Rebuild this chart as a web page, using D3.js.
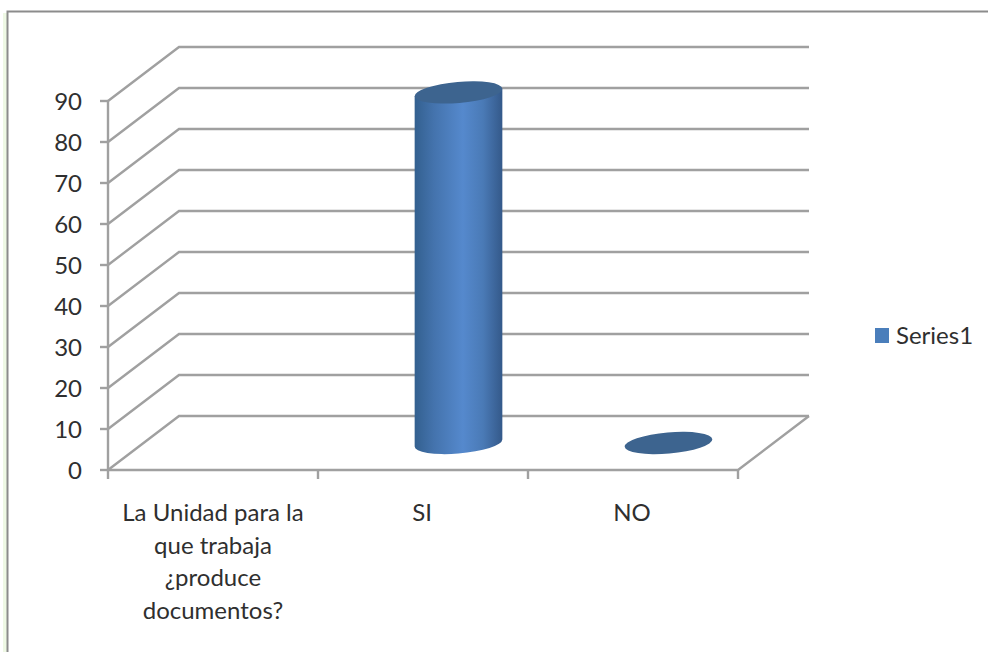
<!DOCTYPE html>
<html>
<head>
<meta charset="utf-8">
<script src="https://cdn.jsdelivr.net/npm/d3@7/dist/d3.min.js"></script>
<style>
html,body{margin:0;padding:0;background:#fff;}
svg{display:block;}
text{font-family:Lato,"Open Sans",sans-serif;fill:#2f2f2f;}
</style>
</head>
<body>
<svg id="chart" width="988" height="652"></svg>
<script>
// Survey answers plotted as a 3D-style cylinder column chart
const categories = ["La Unidad para la que trabaja ¿produce documentos?", "SI", "NO"];
const categoryLines = [["La Unidad para la", "que trabaja", "¿produce", "documentos?"], ["SI"], ["NO"]];
const series1 = [null, 85.5, 0];
const yTicks = [0, 10, 20, 30, 40, 50, 60, 70, 80, 90];
const seriesName = "Series1";

const svg = d3.select("#chart");
const gridColor = "#a0a0a0";
const depth = {dx: 71, dy: -54};
const fontSize = 24;

const x = d3.scaleBand().domain(categories).range([108, 738]);
const y = d3.scaleLinear().domain([0, 90]).range([470, 101]);

// Frame around the chart area, with a faint green edge on the left
svg.append("rect").attr("x", 3).attr("y", 13).attr("width", 4).attr("height", 639).attr("fill", "#eef8e4");
svg.append("path").attr("d", "M7.5,652V11.5H988").attr("fill", "none").attr("stroke", "#8c8c8c").attr("stroke-width", 2);

const grid = svg.append("g").attr("fill", "none").attr("stroke", gridColor).attr("stroke-width", 2.4);

// Back wall and side wall gridlines
yTicks.forEach(t => {
  const p = d3.path();
  p.moveTo(x.range()[0], y(t));
  p.lineTo(x.range()[0] + depth.dx, y(t) + depth.dy);
  p.lineTo(x.range()[1] + depth.dx, y(t) + depth.dy);
  grid.append("path").attr("d", p.toString());
});

// Floor edges
const floor = d3.path();
floor.moveTo(x.range()[0], y(0));
floor.lineTo(x.range()[1], y(0));
floor.lineTo(x.range()[1] + depth.dx, y(0) + depth.dy);
grid.append("path").attr("d", floor.toString());

// Value axis with outward ticks and labels
grid.append("line").attr("x1", 108).attr("x2", 108).attr("y1", y(90)).attr("y2", y(0));
yTicks.forEach(t => {
  grid.append("line").attr("x1", 100).attr("x2", 108).attr("y1", y(t)).attr("y2", y(t));
  svg.append("text").attr("x", 82).attr("y", y(t) + 9).attr("text-anchor", "end")
    .attr("font-size", fontSize).text(t);
});

// Category axis ticks sit on the band edges
const edges = [x.range()[0]].concat(categories.map(c => x(c) + x.bandwidth()));
edges.forEach(e => {
  grid.append("line").attr("x1", e).attr("x2", e).attr("y1", y(0)).attr("y2", y(0) + 9);
});

categories.forEach((c, i) => {
  const label = svg.append("text").attr("text-anchor", "middle").attr("font-size", fontSize);
  categoryLines[i].forEach((line, j) => {
    label.append("tspan").attr("x", x(c) + x.bandwidth() / 2 - (i ? 1 : 0)).attr("y", 521 + j * 32.5).text(line);
  });
});

// Horizontal shading that gives the column its round look
const defs = svg.append("defs");
const grad = defs.append("linearGradient").attr("id", "cyl").attr("x1", 0).attr("x2", 1).attr("y1", 0).attr("y2", 0);
[[0, "#33608f"], [0.22, "#4473ad"], [0.55, "#5589cd"], [0.78, "#4a7ab6"], [1, "#34598a"]].forEach(s => {
  grad.append("stop").attr("offset", s[0]).attr("stop-color", s[1]);
});

// Cylinders are tilted ellipses joined along their left and right extremes
const rx = 44, ry = 10.5, tilt = -5;
const th = tilt * Math.PI / 180;
const ext = Math.atan2(-ry * Math.sin(th), rx * Math.cos(th));
const ex = rx * Math.cos(ext) * Math.cos(th) - ry * Math.sin(ext) * Math.sin(th);
const ey = rx * Math.cos(ext) * Math.sin(th) + ry * Math.sin(ext) * Math.cos(th);

categories.forEach((c, i) => {
  const v = series1[i];
  if (v === null) return;
  const cx = x(c) + x.bandwidth() / 2 + depth.dx / 2;
  const base = y(0) + depth.dy / 2;
  const top = y(v) + depth.dy / 2;
  if (v > 0) {
    svg.append("path")
      .attr("d", `M${cx - ex},${top - ey}L${cx - ex},${base - ey}A${rx},${ry} ${tilt} 0 0 ${cx + ex},${base + ey}L${cx + ex},${top + ey}Z`)
      .attr("fill", "url(#cyl)");
  }
  svg.append("ellipse").attr("cx", cx).attr("cy", top).attr("rx", rx).attr("ry", ry)
    .attr("transform", `rotate(${tilt} ${cx} ${top})`).attr("fill", "#3d648f");
});

// Legend
svg.append("rect").attr("x", 875).attr("y", 328).attr("width", 14).attr("height", 15).attr("fill", "#4a7ebb");
svg.append("text").attr("x", 896).attr("y", 344).attr("font-size", fontSize).text(seriesName);
</script>
</body>
</html>
